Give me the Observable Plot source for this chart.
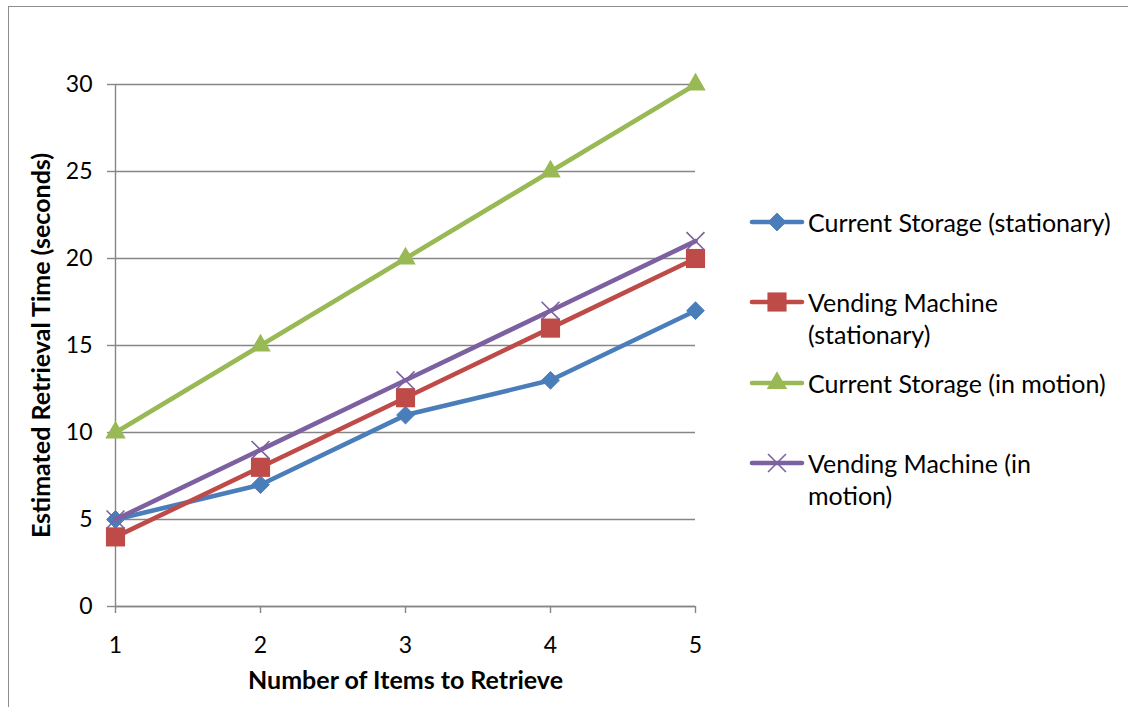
<!DOCTYPE html>
<html>
<head>
<meta charset="utf-8">
<script src="https://cdn.jsdelivr.net/npm/d3@7"></script>
<script src="https://cdn.jsdelivr.net/npm/@observablehq/plot@0.6"></script>
<style>
  html, body { margin: 0; padding: 0; background: #fff; }
  #chart { position: relative; width: 1128px; height: 707px; overflow: hidden; font-family: Lato, "Open Sans", sans-serif; }
  #border { position: absolute; left: 8px; top: 6px; width: 1300px; height: 900px; border: 1.5px solid #8c8c8c; }
  #chart svg.main { position: absolute; left: 0; top: 0; }
  #chart svg.main [aria-label="y-axis label"],
  #chart svg.main [aria-label="x-axis label"] { font-weight: bold; }
  .legend-item { position: absolute; left: 749px; display: flex; align-items: flex-start; }
  .legend-item svg { flex: none; }
  .legend-text { margin-left: 3px; font-size: 25px; line-height: 32px; color: #000; white-space: nowrap; }
</style>
</head>
<body>
<div id="chart"><div id="border"></div></div>
<script>
// Retrieval time by number of items, four storage scenarios
const items = [1, 2, 3, 4, 5];
const seriesNames = [
  "Current Storage (stationary)",
  "Vending Machine (stationary)",
  "Current Storage (in motion)",
  "Vending Machine (in motion)"
];
const legendLines = [
  ["Current Storage (stationary)"],
  ["Vending Machine", "(stationary)"],
  ["Current Storage (in motion)"],
  ["Vending Machine (in", "motion)"]
];
const currentStationary = [5, 7, 11, 13, 17];
const vendingStationary = [4, 8, 12, 16, 20];
const currentMotion = [10, 15, 20, 25, 30];
const vendingMotion = [5, 9, 13, 17, 21];
const yTicks = [0, 5, 10, 15, 20, 25, 30];
const xTicks = [1, 2, 3, 4, 5];
const seriesColors = ["#4a7ebb", "#be4b48", "#98b954", "#7d60a0"];
const seriesSymbols = ["diamond2", "square", "triangle", "times"];
const symbolRadius = [8, 10.8, 7.6, 8.2];

const seriesValues = [currentStationary, vendingStationary, currentMotion, vendingMotion];
const rows = seriesNames.map((name, i) =>
  items.map((item, j) => ({series: name, item, time: seriesValues[i][j]}))
);

const grey = "#868686";
const markerStroke = i => seriesSymbols[i] === "times" ? 1.6 : (seriesSymbols[i] === "diamond2" ? 1 : 0);

const seriesMarks = rows.flatMap((data, i) => [
  Plot.line(data, {x: "item", y: "time", stroke: seriesColors[i], strokeWidth: 4.6, strokeLinejoin: "round", strokeLinecap: "round"}),
  Plot.dot(data, {
    x: "item", y: "time", symbol: seriesSymbols[i], r: symbolRadius[i],
    fill: seriesSymbols[i] === "times" ? "none" : seriesColors[i],
    stroke: seriesColors[i],
    strokeWidth: markerStroke(i)
  })
]);

const chart = Plot.plot({
  width: 1128,
  height: 707,
  marginLeft: 115,
  marginRight: 433,
  marginTop: 84,
  marginBottom: 101,
  style: {fontFamily: "Lato, 'Open Sans', sans-serif", fontSize: "23px", color: "#000", background: "transparent", overflow: "visible"},
  x: {domain: [1, 5]},
  y: {domain: [0, 30]},
  marks: [
    Plot.gridY(yTicks, {stroke: grey, strokeOpacity: 1, strokeWidth: 1.4}),
    Plot.ruleX([1], {stroke: grey, strokeWidth: 1.4}),
    Plot.ruleY([0], {stroke: grey, strokeWidth: 1.4}),
    Plot.axisY(yTicks, {
      tickSize: 8, tickPadding: 15, stroke: grey, strokeWidth: 1.4, fill: "#000", fontSize: 23,
      tickFormat: "d",
      label: "Estimated Retrieval Time (seconds)", labelAnchor: "center", labelOffset: 83, labelArrow: "none"
    }),
    Plot.axisX(xTicks, {
      tickSize: 7, tickPadding: 23, stroke: grey, strokeWidth: 1.4, fill: "#000", fontSize: 23,
      tickFormat: "d",
      label: "Number of Items to Retrieve", labelAnchor: "center", labelOffset: 82, labelArrow: "none"
    }),
    ...seriesMarks
  ]
});
chart.classList.add("main");
// axis titles are bold and a little larger than the tick labels
chart.querySelectorAll('[aria-label="y-axis label"], [aria-label="x-axis label"]').forEach(g => {
  g.setAttribute("font-size", 25);
  g.style.fontSize = "25px";
});
const host = document.getElementById("chart");
host.appendChild(chart);

// Legend: line swatch with the series marker, then the wrapped series name
const legendTops = [206, 286, 367, 447];
const symbolTypes = {diamond2: d3.symbolDiamond2, square: d3.symbolSquare, triangle: d3.symbolTriangle, times: d3.symbolTimes};
seriesNames.forEach((name, i) => {
  const item = document.createElement("div");
  item.className = "legend-item";
  item.style.top = legendTops[i] + "px";
  const svg = d3.create("svg").attr("width", 56).attr("height", 32);
  svg.append("line").attr("x1", 3).attr("x2", 53).attr("y1", 16).attr("y2", 16)
    .attr("stroke", seriesColors[i]).attr("stroke-width", 4.6).attr("stroke-linecap", "round");
  svg.append("path")
    .attr("transform", "translate(28,16)")
    .attr("d", d3.symbol(symbolTypes[seriesSymbols[i]], Math.PI * symbolRadius[i] * symbolRadius[i])())
    .attr("fill", seriesSymbols[i] === "times" ? "none" : seriesColors[i])
    .attr("stroke", seriesColors[i])
    .attr("stroke-width", markerStroke(i));
  item.appendChild(svg.node());
  const text = document.createElement("div");
  text.className = "legend-text";
  text.innerHTML = legendLines[i].join("<br>");
  item.appendChild(text);
  host.appendChild(item);
});
</script>
</body>
</html>
